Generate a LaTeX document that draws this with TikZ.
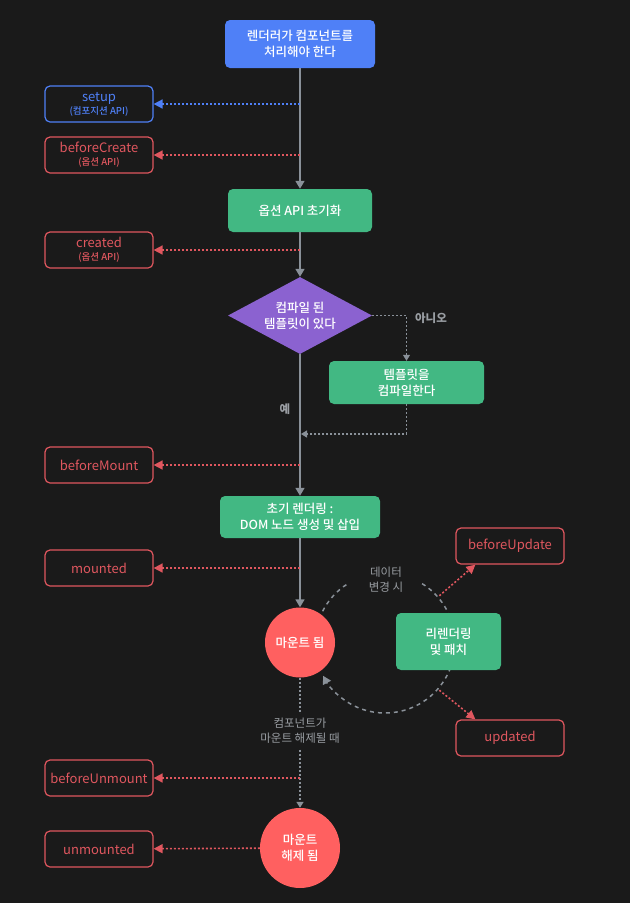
\documentclass[tikz,border=0pt]{standalone}
\usepackage{fontspec}
\setmainfont{Noto Sans CJK KR Medium}
\newfontfamily\regfont{Noto Sans CJK KR}
\usetikzlibrary{arrows.meta,shapes.geometric,calc}

\definecolor{bg}{HTML}{1A1A1A}
\definecolor{vblue}{HTML}{4F80F7}
\definecolor{vgreen}{HTML}{42B883}
\definecolor{vpurple}{HTML}{8B62D0}
\definecolor{vred}{HTML}{FF6060}
\definecolor{hookred}{HTML}{E0575F}
\definecolor{lgray}{HTML}{8A9199}
\definecolor{tgray}{HTML}{9A9EA3}

\newcommand{\smalltxt}{\fontsize{9.5}{12}\selectfont}
\newcommand{\notetxt}{\fontsize{11.5}{15}\selectfont}
\newcommand{\hooktxt}{\regfont\fontsize{13}{16}\selectfont}

\begin{document}
\begin{tikzpicture}[x=1pt,y=-1pt,
    every node/.style={font=\fontsize{12.5}{16}\selectfont, align=center, inner sep=0pt},
    stage/.style={rectangle, rounded corners=5pt, fill=vgreen, text=white},
    hook/.style={rectangle, rounded corners=5pt, draw=hookred, line width=1.2pt,
      text=hookred, font=\hooktxt, minimum width=108pt, minimum height=36pt},
    flow/.style={draw=lgray, line width=1.6pt, -{Triangle[width=9pt,length=8pt]}},
    optflow/.style={draw=lgray, line width=1.2pt, dash pattern=on 2pt off 2pt,
      -{Triangle[width=7pt,length=6pt]}},
    hookline/.style={draw=hookred, line width=1.6pt, dash pattern=on 2pt off 2pt,
      -{Triangle[width=9pt,length=9pt]}},
    loopline/.style={draw=lgray, line width=1.5pt, dash pattern=on 4pt off 4pt},
    note/.style={text=tgray, font=\regfont\notetxt}]

  \fill[bg] (0,0) rectangle (630,903);
  \useasboundingbox (0,0) rectangle (630,903);

  % main column
  \node[rectangle, rounded corners=5pt, fill=vblue, text=white,
    minimum width=150pt, minimum height=48pt] (render) at (300,44) {렌더러가 컴포넌트를\\처리해야 한다};
  \node[stage, minimum width=144pt, minimum height=43pt] (initopts) at (300,210.5) {옵션 API 초기화};
  \node[diamond, fill=vpurple, text=white, aspect=1.9, minimum width=144pt,
    minimum height=77pt] (hastpl) at (300,315.5) {컴파일 된\\템플릿이 있다};
  \node[stage, minimum width=155pt, minimum height=43pt] (compile) at (406.5,382.5) {템플릿을\\컴파일한다};
  \node[stage, minimum width=160pt, minimum height=42pt] (initrender) at (300,517) {초기 렌더링 :\\DOM 노드 생성 및 삽입};
  \node[circle, fill=vred, text=white, minimum size=70pt] (mountedc) at (300,642.5) {마운트 됨};
  \node[circle, fill=vred, text=white, minimum size=80pt] (unmountedc) at (300,848) {마운트\\해제 됨};

  % hooks
  \node[hook, draw=vblue, text=vblue] (setup) at (99,104) {setup\\[-3pt]{\rmfamily\smalltxt (컴포지션 API)}};
  \node[hook] (beforecreate) at (99,155) {beforeCreate\\[-3pt]{\rmfamily\smalltxt (옵션 API)}};
  \node[hook] (created) at (99,250) {created\\[-3pt]{\rmfamily\smalltxt (옵션 API)}};
  \node[hook] (beforemount) at (99,465) {beforeMount};
  \node[hook] (mounted) at (99,568) {mounted};
  \node[hook] (beforeupdate) at (510,546) {beforeUpdate};
  \node[hook] (updated) at (510,738) {updated};
  \node[hook] (beforeunmount) at (99,778) {beforeUnmount};
  \node[hook] (unmounted) at (99,849) {unmounted};

  \draw[flow] (render) -- (initopts);
  \draw[flow] (initopts) -- (hastpl);
  \draw[flow] (hastpl) -- (initrender);
  \draw[flow] (initrender) -- (mountedc);

  \draw[optflow] (hastpl.east) -| (compile.north);
  \coordinate (join) at (301,434);
  \draw[optflow] (compile.south) |- (join);
  \node[note, font=\notetxt\bfseries] (no) at (431,318) {아니오};
  \node[note, font=\notetxt\bfseries] (yes) at (285,409) {예};

  \draw[optflow, line width=1.4pt] (mountedc) -- (unmountedc);
  \node[note, fill=bg, inner sep=4pt] (unmountnote) at (300,731) {컴포넌트가\\마운트 해제될 때};

  % hook taps
  \draw[hookline, draw=vblue] (render.south |- setup) -- (setup);
  \draw[hookline] (render.south |- beforecreate) -- (beforecreate);
  \draw[hookline] (initopts.south |- created) -- (created);
  \draw[hookline] (hastpl.south |- beforemount) -- (beforemount);
  \draw[hookline] (initrender.south |- mounted) -- (mounted);
  \draw[hookline] (mountedc.south |- beforeunmount) -- (beforeunmount);
  \draw[hookline] (unmountedc) -- (unmounted);

  % update loop
  \coordinate (loopc) at (385,643);
  \draw[loopline] ($(loopc)+(-153:70)$) arc (-153:-123:70);
  \draw[loopline, -{Triangle[width=9pt,length=8pt]}] ($(loopc)+(-58:70)$) arc (-58:152:70);
  \node[note] (datanote) at (386,580) {데이터\\변경 시};
  \node[stage, minimum width=105pt, minimum height=57pt] (rerender) at (448.5,641.5) {리렌더링\\및 패치};
  \coordinate (upd1) at ($(loopc)+(-41:72)$);
  \coordinate (upd2) at ($(loopc)+(41:72)$);
  \draw[hookline] (upd1) -- ($(beforeupdate.south west)+(20,0)$);
  \draw[hookline] (upd2) -- ($(updated.north west)+(20,0)$);
\end{tikzpicture}
\end{document}
